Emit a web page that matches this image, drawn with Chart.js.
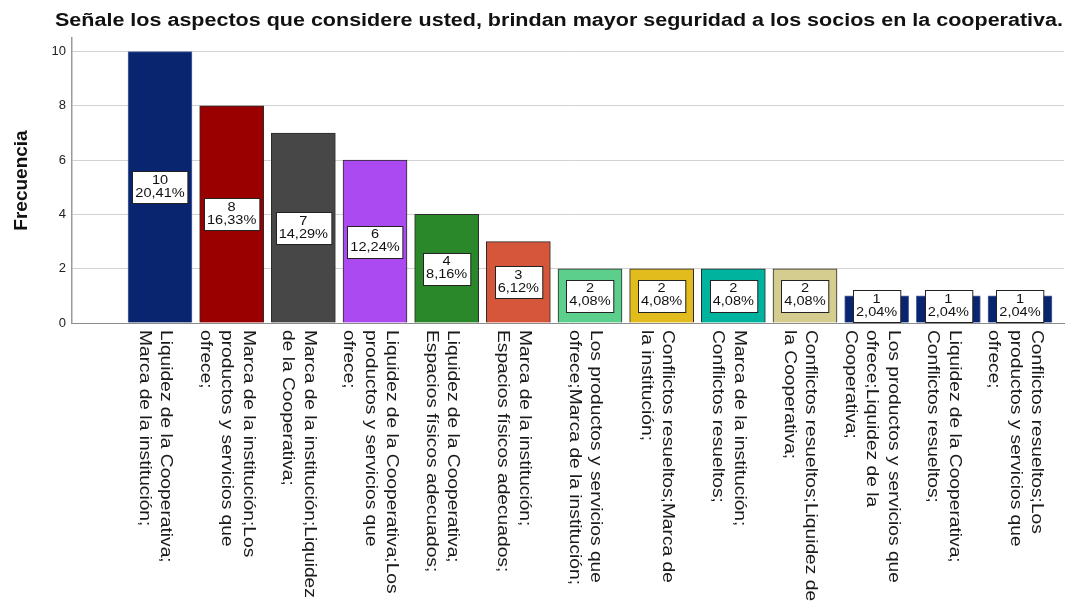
<!DOCTYPE html>
<html>
<head>
<meta charset="utf-8">
<script src="https://cdn.jsdelivr.net/npm/chart.js@4.4.1/dist/chart.umd.min.js"></script>
<style>
html, body { margin: 0; padding: 0; background: #fff; }
</style>
</head>
<body>
<canvas id="chart" width="1090" height="603"></canvas>
<script>
const chartTitle = 'Señale los aspectos que considere usted, brindan mayor seguridad a los socios en la cooperativa.';
const axisTitle = 'Frecuencia';

const categories = [
    ['Liquidez de la Cooperativa;', 'Marca de la institución;'],
    ['Marca de la institución;Los', 'productos y servicios que', 'ofrece;'],
    ['Marca de la institución;Liquidez', 'de la Cooperativa;'],
    ['Liquidez de la Cooperativa;Los', 'productos y servicios que', 'ofrece;'],
    ['Liquidez de la Cooperativa;', 'Espacios físicos adecuados;'],
    ['Marca de la institución;', 'Espacios físicos adecuados;'],
    ['Los productos y servicios que', 'ofrece;Marca de la institución;'],
    ['Conflictos resueltos;Marca de', 'la institución;'],
    ['Marca de la institución;', 'Conflictos resueltos;'],
    ['Conflictos resueltos;Liquidez de', 'la Cooperativa;'],
    ['Los productos y servicios que', 'ofrece;Liquidez de la', 'Cooperativa;'],
    ['Liquidez de la Cooperativa;', 'Conflictos resueltos;'],
    ['Conflictos resueltos;Los', 'productos y servicios que', 'ofrece;'],
];
const counts = [10, 8, 7, 6, 4, 3, 2, 2, 2, 2, 1, 1, 1];
const percents = ['20,41%', '16,33%', '14,29%', '12,24%', '8,16%', '6,12%', '4,08%', '4,08%', '4,08%', '4,08%', '2,04%', '2,04%', '2,04%'];
const yTicks = [0, 2, 4, 6, 8, 10];

const barColors = ['#0a256f', '#9a0000', '#474747', '#aa4af0', '#2a872a', '#d5563a',
    '#5ccf8c', '#e2bb1d', '#00b39e', '#d5cd8f', '#0a256f', '#0a256f', '#0a256f'];
const barBorders = ['#5468a0', '#2b2b2b', '#2b2b2b', '#2b2b2b', '#2b2b2b', '#2b2b2b',
    '#2b2b2b', '#2b2b2b', '#2b2b2b', '#2b2b2b', '#5468a0', '#5468a0', '#5468a0'];

const FONT = '"Liberation Sans", Arial, sans-serif';
Chart.defaults.font.family = FONT;

// title drawn by hand so it can be stretched to the width SPSS gives it
const titlePlugin = {
    id: 'titlePlugin',
    afterDraw(chart) {
        const ctx = chart.ctx;
        ctx.save();
        ctx.font = 'bold 18px ' + FONT;
        ctx.fillStyle = '#111';
        const w = ctx.measureText(chartTitle).width;
        const sx = 1008 / w;
        ctx.translate(559, 26);
        ctx.scale(sx, 1);
        ctx.textAlign = 'center';
        ctx.textBaseline = 'alphabetic';
        ctx.fillText(chartTitle, 0, 0);
        ctx.restore();
    }
};

// category labels, rotated clockwise (read top to bottom)
const xLabelPlugin = {
    id: 'xLabelPlugin',
    afterDraw(chart) {
        const ctx = chart.ctx;
        const xs = chart.scales.x;
        const baseY = chart.scales.y.getPixelForValue(0);
        const lh = 21.5;
        ctx.save();
        ctx.font = '16px ' + FONT;
        ctx.fillStyle = '#1a1a1a';
        categories.forEach((lines, i) => {
            const cx = xs.getPixelForValue(i + 1) - 5;
            ctx.save();
            ctx.translate(cx + (lines.length - 1) * lh / 2, baseY + 7);
            ctx.rotate(Math.PI / 2);
            ctx.scale(1.2, 1);
            ctx.textAlign = 'left';
            ctx.textBaseline = 'middle';
            lines.forEach((t, k) => ctx.fillText(t, 0, k * lh));
            ctx.restore();
        });
        ctx.restore();
    }
};

// white boxes with count and percent inside each bar
const boxLabelPlugin = {
    id: 'boxLabelPlugin',
    afterDatasetsDraw(chart) {
        const ctx = chart.ctx;
        const ys = chart.scales.y;
        const baseY = ys.getPixelForValue(0);
        const meta = chart.getDatasetMeta(0);
        ctx.save();
        ctx.font = '13px ' + FONT;
        meta.data.forEach((bar, i) => {
            const sx = 1.12;
            const tw = Math.max(ctx.measureText(String(counts[i])).width, ctx.measureText(percents[i]).width) * sx;
            const w = tw + 6;
            const h = 32;
            let cy = ys.getPixelForValue(counts[i] / 2);
            cy = Math.min(cy, baseY - h / 2 - 1);
            const x = Math.round(bar.x - w / 2) + 0.5;
            const y = Math.round(cy - h / 2) + 0.5;
            ctx.fillStyle = '#fff';
            ctx.fillRect(x, y, w, h);
            ctx.strokeStyle = '#222';
            ctx.lineWidth = 1;
            ctx.strokeRect(x, y, w, h);
            ctx.fillStyle = '#111';
            ctx.textAlign = 'center';
            ctx.textBaseline = 'middle';
            [String(counts[i]), percents[i]].forEach((t, k) => {
                ctx.save();
                ctx.translate(bar.x, cy - 7 + k * 13);
                ctx.scale(sx, 1);
                ctx.fillText(t, 0, 0);
                ctx.restore();
            });
        });
        ctx.restore();
    }
};

const ctx = document.getElementById('chart').getContext('2d');
const chart = new Chart(ctx, {
    type: 'bar',
    data: {
        datasets: [{
            data: counts.map((v, i) => ({ x: i + 1, y: v })),
            backgroundColor: barColors,
            borderColor: barBorders,
            borderWidth: 1,
            barThickness: 64,
        }],
    },
    options: {
        responsive: false,
        animation: false,
        layout: { padding: { top: 38, right: 26, left: 0, bottom: 0 } },
        plugins: {
            legend: { display: false },
            tooltip: { enabled: false },
        },
        scales: {
            x: {
                type: 'linear',
                offset: false,
                min: -0.228,
                max: 13.614,
                ticks: { display: false, stepSize: 1, includeBounds: false },
                grid: { display: false },
                border: { display: true, color: '#8c8c8c', width: 1 },
                afterFit(scale) { scale.height = 280; },
            },
            y: {
                min: 0,
                max: 10.5,
                afterBuildTicks(scale) { scale.ticks = yTicks.map(v => ({ value: v })); },
                ticks: { color: '#222', font: { size: 13 }, padding: 6 },
                grid: { color: '#d2d2d2', lineWidth: 1, drawTicks: false },
                border: { color: '#9a9a9a', width: 1.5 },
                title: {
                    display: true,
                    text: axisTitle,
                    color: '#111',
                    font: { size: 19, weight: 'bold' },
                    padding: { top: 10, bottom: 0 },
                },
                afterFit(scale) { scale.width = 72; },
            },
        },
    },
    plugins: [titlePlugin, xLabelPlugin, boxLabelPlugin],
});
</script>
</body>
</html>
